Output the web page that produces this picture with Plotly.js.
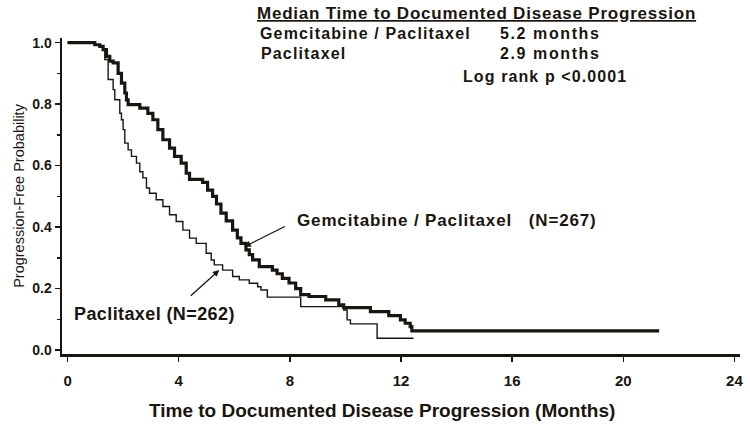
<!DOCTYPE html>
<html><head><meta charset="utf-8">
<script src="https://cdn.plot.ly/plotly-3.0.1.min.js"></script>
<style>html,body{margin:0;padding:0;background:#fff}#chart{width:750px;height:428px}</style>
</head><body><div id="chart"></div>
<script>
// Gemcitabine / Paclitaxel (N=267) - step points (months, progression-free probability)
const gemTime = [0, 0.80, 0.98, 1.16, 1.28, 1.40, 1.52, 1.64, 1.82, 1.94, 2.06, 2.12, 2.18, 2.60, 2.89, 3.07, 3.25, 3.43, 3.67, 3.85, 4.09, 4.27, 4.39, 4.86, 5.04, 5.22, 5.36, 5.52, 5.71, 5.94, 6.11, 6.24, 6.42, 6.54, 6.66, 6.90, 7.37, 7.54, 7.73, 7.97, 8.21, 8.39, 8.69, 9.29, 9.76, 9.94, 10.90, 11.56, 11.98, 12.15, 12.33, 12.39, 21.29];
const gemSurv = [1.0, 1.0, 0.993, 0.988, 0.977, 0.955, 0.94, 0.934, 0.90, 0.868, 0.836, 0.814, 0.798, 0.787, 0.77, 0.749, 0.717, 0.684, 0.657, 0.63, 0.608, 0.575, 0.555, 0.545, 0.52, 0.50, 0.475, 0.445, 0.42, 0.39, 0.365, 0.347, 0.326, 0.31, 0.293, 0.271, 0.26, 0.248, 0.233, 0.218, 0.20, 0.18, 0.174, 0.163, 0.147, 0.138, 0.125, 0.112, 0.098, 0.087, 0.076, 0.062, 0.062];
// Paclitaxel (N=262)
const pacTime = [0, 0.80, 0.98, 1.16, 1.28, 1.34, 1.46, 1.64, 1.70, 1.88, 1.94, 2.00, 2.06, 2.18, 2.30, 2.48, 2.60, 2.71, 2.84, 2.95, 3.19, 3.43, 3.67, 3.91, 4.15, 4.39, 4.63, 4.99, 5.17, 5.28, 5.58, 5.94, 6.18, 6.54, 6.84, 6.96, 7.19, 8.39, 9.94, 10.06, 10.18, 11.14, 12.45];
const pacSurv = [1.0, 1.0, 0.993, 0.988, 0.977, 0.945, 0.88, 0.847, 0.814, 0.77, 0.749, 0.717, 0.673, 0.651, 0.63, 0.608, 0.58, 0.56, 0.527, 0.51, 0.489, 0.467, 0.44, 0.418, 0.39, 0.364, 0.347, 0.315, 0.293, 0.277, 0.26, 0.239, 0.228, 0.217, 0.206, 0.195, 0.172, 0.141, 0.13, 0.098, 0.085, 0.038, 0.038];

const xTickVals = [0, 4, 8, 12, 16, 20, 24];
const yTickVals = [0, 0.2, 0.4, 0.6, 0.8, 1.0];
const yTickText = ['0.0', '0.2', '0.4', '0.6', '0.8', '1.0'];
const yMinorVals = [0.1, 0.3, 0.5, 0.7, 0.9];

const seriesNames = ['Gemcitabine / Paclitaxel (N=267)', 'Paclitaxel (N=262)'];
const medianRows = [['Gemcitabine / Paclitaxel', '5.2 months'], ['Paclitaxel', '2.9 months']];

const ink = '#1a1510';
const F = 'Arial, "Liberation Sans", Helvetica, sans-serif';

const traces = [
  {x: pacTime, y: pacSurv, name: seriesNames[1], type: 'scatter', mode: 'lines',
   line: {shape: 'hv', color: ink, width: 1.4}},
  {x: gemTime, y: gemSurv, name: seriesNames[0], type: 'scatter', mode: 'lines',
   line: {shape: 'hv', color: ink, width: 3.2}}
];

function sp(t, ls) { return '<span style="letter-spacing:' + ls + 'px">' + t + '</span>'; }
const px2x = p => (p - 62) / 678;
const px2y = p => (354 - p) / 316;

const annotations = [
  {xref: 'paper', yref: 'paper', x: px2x(255), y: px2y(13), xanchor: 'left', yanchor: 'middle', showarrow: false,
   text: '<u>' + sp('<b>Median Time to Documented Disease Progression</b>', 0.78) + '</u>', font: {family: F, size: 17, color: ink}},
  {xref: 'paper', yref: 'paper', x: px2x(258), y: px2y(34), xanchor: 'left', yanchor: 'middle', showarrow: false,
   text: sp('<b>' + medianRows[0][0] + '</b>', 1.15), font: {family: F, size: 16, color: ink}},
  {xref: 'paper', yref: 'paper', x: px2x(498), y: px2y(34), xanchor: 'left', yanchor: 'middle', showarrow: false,
   text: sp('<b>' + medianRows[0][1] + '</b>', 1.6), font: {family: F, size: 16, color: ink}},
  {xref: 'paper', yref: 'paper', x: px2x(259), y: px2y(53), xanchor: 'left', yanchor: 'middle', showarrow: false,
   text: sp('<b>' + medianRows[1][0] + '</b>', 1.15), font: {family: F, size: 16, color: ink}},
  {xref: 'paper', yref: 'paper', x: px2x(498), y: px2y(53), xanchor: 'left', yanchor: 'middle', showarrow: false,
   text: sp('<b>' + medianRows[1][1] + '</b>', 1.6), font: {family: F, size: 16, color: ink}},
  {xref: 'paper', yref: 'paper', x: px2x(461), y: px2y(76), xanchor: 'left', yanchor: 'middle', showarrow: false,
   text: sp('<b>Log rank p &lt;0.0001</b>', 1.1), font: {family: F, size: 16, color: ink}},
  {xref: 'paper', yref: 'paper', x: px2x(295), y: px2y(220), xanchor: 'left', yanchor: 'middle', showarrow: false,
   text: sp('<b>Gemcitabine / Paclitaxel&#160;&#160;&#160;(N=267)</b>', 0.85), font: {family: F, size: 17, color: ink}},
  {xref: 'paper', yref: 'paper', x: px2x(72), y: px2y(314), xanchor: 'left', yanchor: 'middle', showarrow: false,
   text: sp('<b>Paclitaxel (N=262)</b>', 0.4), font: {family: F, size: 18, color: ink}},
  {xref: 'paper', yref: 'paper', x: px2x(381.5), y: px2y(410), xanchor: 'center', yanchor: 'middle', showarrow: false,
   text: '<b>Time to Documented Disease Progression (Months)</b>', font: {family: F, size: 19, color: ink}},
  {xref: 'x', yref: 'y', x: 6.36, y: 0.336, ax: 42, ay: -21, text: '', showarrow: true,
   arrowhead: 2, arrowsize: 1, arrowwidth: 1.3, arrowcolor: ink},
  {xref: 'x', yref: 'y', x: 5.46, y: 0.26, ax: -30, ay: 27, text: '', showarrow: true,
   arrowhead: 2, arrowsize: 1, arrowwidth: 1.3, arrowcolor: ink}
];

const layout = {
  width: 750, height: 428,
  margin: {l: 62, r: 10, t: 38, b: 74},
  paper_bgcolor: '#ffffff', plot_bgcolor: '#ffffff',
  showlegend: false,
  xaxis: {
    range: [-0.2, 24.2], showgrid: false, zeroline: false,
    showline: true, linewidth: 2.5, linecolor: ink,
    ticks: 'outside', ticklen: 5, tickwidth: 1.5, tickcolor: ink,
    tickvals: xTickVals, ticktext: xTickVals.map(String),
    ticklabelstandoff: 6,
    tickfont: {family: F, size: 15, color: ink, weight: 'bold'}
  },
  yaxis: {
    range: [-0.013, 1.015], showgrid: false, zeroline: false,
    showline: true, linewidth: 2.5, linecolor: ink,
    ticks: 'outside', ticklen: 5, tickwidth: 1.5, tickcolor: ink,
    tickvals: yTickVals, ticktext: yTickText,
    minor: {tickvals: yMinorVals, ticks: 'outside', ticklen: 3, tickwidth: 1.5, tickcolor: ink},
    tickfont: {family: F, size: 14, color: ink, weight: 'bold'},
    title: {text: 'Progression-Free Probability', standoff: 4,
      font: {family: F, size: 14.5, color: ink}}
  },
  annotations: annotations
};

Plotly.newPlot('chart', traces, layout, {displayModeBar: false, staticPlot: true});
</script>
</body></html>
